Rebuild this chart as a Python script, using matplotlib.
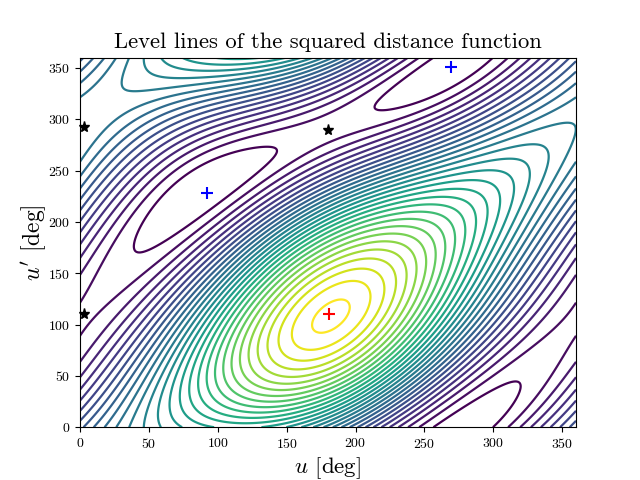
import numpy as np
import matplotlib
matplotlib.use("Agg")
import matplotlib.pyplot as plt

plt.rcParams['font.family'] = ['cmr10', 'DejaVu Sans']
plt.rcParams['mathtext.fontset'] = 'cm'
plt.rcParams['axes.unicode_minus'] = False
plt.rcParams['axes.formatter.use_mathtext'] = True

# Surface heights, counted in contour lines
u_deg = [0, 30, 60, 90, 120, 150, 180, 210, 240, 270, 300, 330, 360]
up_deg = [0, 30, 60, 90, 120, 150, 180, 210, 240, 270, 300, 330, 360]
row_000 = [9.0, 12.8, 16.6, 19.2, 19.5, 17.3, 13.5, 8.3, 2.9, 0.5, 1.0, 6.0, 9.0]
row_030 = [6.0, 10.0, 15.3, 19.8, 22.2, 22.7, 21.0, 16.5, 9.8, 3.9, 0.4, 2.2, 6.0]
row_060 = [3.7, 7.0, 13.0, 19.0, 23.5, 26.0, 27.0, 23.5, 16.5, 9.5, 4.0, 1.3, 3.7]
row_090 = [2.0, 5.0, 11.0, 18.5, 24.5, 28.5, 30.0, 27.5, 20.5, 12.5, 7.0, 2.8, 2.0]
row_120 = [1.8, 2.9, 6.7, 12.8, 20.2, 26.6, 30.4, 28.4, 23.4, 16.7, 10.2, 4.9, 1.8]
row_150 = [3.6, 2.0, 2.3, 6.3, 14.5, 21.5, 27.0, 27.0, 23.0, 18.2, 12.0, 6.8, 3.6]
row_180 = [5.5, 2.0, 0.9, 3.4, 10.3, 17.8, 21.2, 23.0, 21.2, 18.0, 13.5, 9.1, 5.5]
row_210 = [8.6, 4.6, 0.9, 1.0, 4.0, 10.5, 16.0, 19.5, 20.0, 18.4, 16.4, 12.5, 8.6]
row_240 = [12.0, 8.4, 3.7, 0.7, 0.95, 5.0, 10.0, 15.0, 17.0, 17.4, 17.8, 15.2, 12.0]
row_270 = [11.8, 10.5, 6.2, 2.2, 1.0, 1.0, 2.2, 4.6, 7.0, 10.3, 13.3, 14.3, 11.8]
row_300 = [11.7, 12.1, 9.9, 7.7, 5.6, 3.2, 1.6, 1.2, 2.5, 4.8, 7.6, 10.2, 11.7]
row_330 = [10.0, 13.5, 14.3, 12.9, 11.5, 9.3, 6.3, 3.4, 0.9, 1.4, 3.7, 7.4, 10.0]
row_360 = [9.0, 12.8, 16.6, 19.2, 19.5, 17.3, 13.5, 8.3, 2.9, 0.5, 1.0, 6.0, 9.0]
rows = [row_000, row_030, row_060, row_090, row_120, row_150, row_180,
        row_210, row_240, row_270, row_300, row_330, row_360]
contour_levels = list(range(1, 31))

# Points where a contour or critical point can be read directly: (u, u', level)
readings = [
    (181, 110, 30.7),
    (162, 101, 30), (172, 90, 30), (181, 128, 30), (202, 124, 30), (192, 132, 30), (178, 92, 30),
    (152.6, 96.5, 29), (172, 79, 29), (210.6, 129, 29), (192, 142.5, 29), (178, 79, 29),
    (143.6, 85, 28), (172, 70, 28), (219, 134, 28), (192, 151, 28),
    (136.6, 78, 27), (172, 61.5, 27), (228.6, 140, 27), (197, 161, 27),
    (129, 72, 26), (172, 52.7, 26), (237, 146, 26), (202, 170, 26),
    (139.6, 110, 26), (130, 110, 24), (120.7, 110, 22), (111.8, 110, 20), (103, 110, 18),
    (94.6, 110, 16), (86, 110, 14), (78, 110, 12), (68.7, 110, 10), (59, 110, 8),
    (48, 110, 6), (34.8, 110, 4), (15.5, 110, 2),
    (350.5, 110, 2), (340.8, 110, 3), (332.4, 110, 4), (325, 110, 5), (318, 110, 6),
    (38.5, 163, 1), (150, 273, 1), (93, 262, 1), (67, 246, 1), (62, 180, 1), (93, 210, 1),
    (139, 262, 1), (41.6, 180, 1), (62.6, 180, 1), (84.4, 240, 1), (122, 240, 1),
    (256, 0, 1), (300, 0, 1), (325, 57, 1), (287, 29, 1), (323, 39, 1),
    (254, 360, 1), (298, 360, 1), (209, 309, 1), (226, 331, 1), (250, 319, 1), (292, 353, 1),
    (180, 289, 1.5), (3, 110, 1.5), (3, 292, 11.5), (92, 228, 0.4), (269, 351, 0.4),
    (0, 128, 2), (0, 85, 2), (360, 126, 2), (360, 85, 2), (180, 306, 2), (180, 276, 2),
    (344.7, 267, 15), (20, 321, 13),
]
read_weight = 6.0

max_u = [181]
max_up = [110]
min_u = [92, 269]
min_up = [228, 351]
saddle_u = [3, 3, 180]
saddle_up = [110, 292, 289]
ticks = [0, 50, 100, 150, 200, 250, 300, 350]


def basis(a, b):
    a, b = np.radians(a), np.radians(b)
    terms = [np.ones_like(a)]
    for ang in (a, b, 2 * a, 2 * b, a - b, a + b, 2 * a - 2 * b, 2 * a - b, a - 2 * b):
        terms += [np.cos(ang), np.sin(ang)]
    return np.stack(terms, axis=-1)


# Smooth the read heights with a low-order periodic least-squares fit
U, V = np.meshgrid(np.array(u_deg, float), np.array(up_deg, float))
heights = np.array(rows, dtype=float)
pts = np.array(readings, dtype=float)
A = np.vstack([basis(U.ravel(), V.ravel()), read_weight * basis(pts[:, 0], pts[:, 1])])
b = np.concatenate([heights.ravel(), read_weight * pts[:, 2]])
coef = np.linalg.lstsq(A, b, rcond=None)[0]
fu, fv = np.meshgrid(np.linspace(0, 360, 361), np.linspace(0, 360, 361))
surface = basis(fu, fv) @ coef

fig, ax = plt.subplots(figsize=(6.4, 4.8), dpi=100)
ax.contour(fu, fv, surface, levels=contour_levels, cmap='viridis', linewidths=1.6)

ax.plot(max_u, max_up, '+', color='red', ms=9, mew=1.5)
ax.plot(min_u, min_up, '+', color='blue', ms=9, mew=1.5)
ax.plot(saddle_u, saddle_up, '*', color='black', ms=8, clip_on=False)

ax.set_xlim(0, 360)
ax.set_ylim(0, 360)
ax.set_xticks(ticks)
ax.set_yticks(ticks)
ax.tick_params(labelsize=10)
ax.set_title('Level lines of the squared distance function', fontsize=16.3, pad=7)
ax.set_xlabel(r"$u$ [deg]", fontsize=16.5, labelpad=3)
ax.set_ylabel(r"$u'$ [deg]", fontsize=17, labelpad=0)
fig.savefig('out.png', dpi=100)
